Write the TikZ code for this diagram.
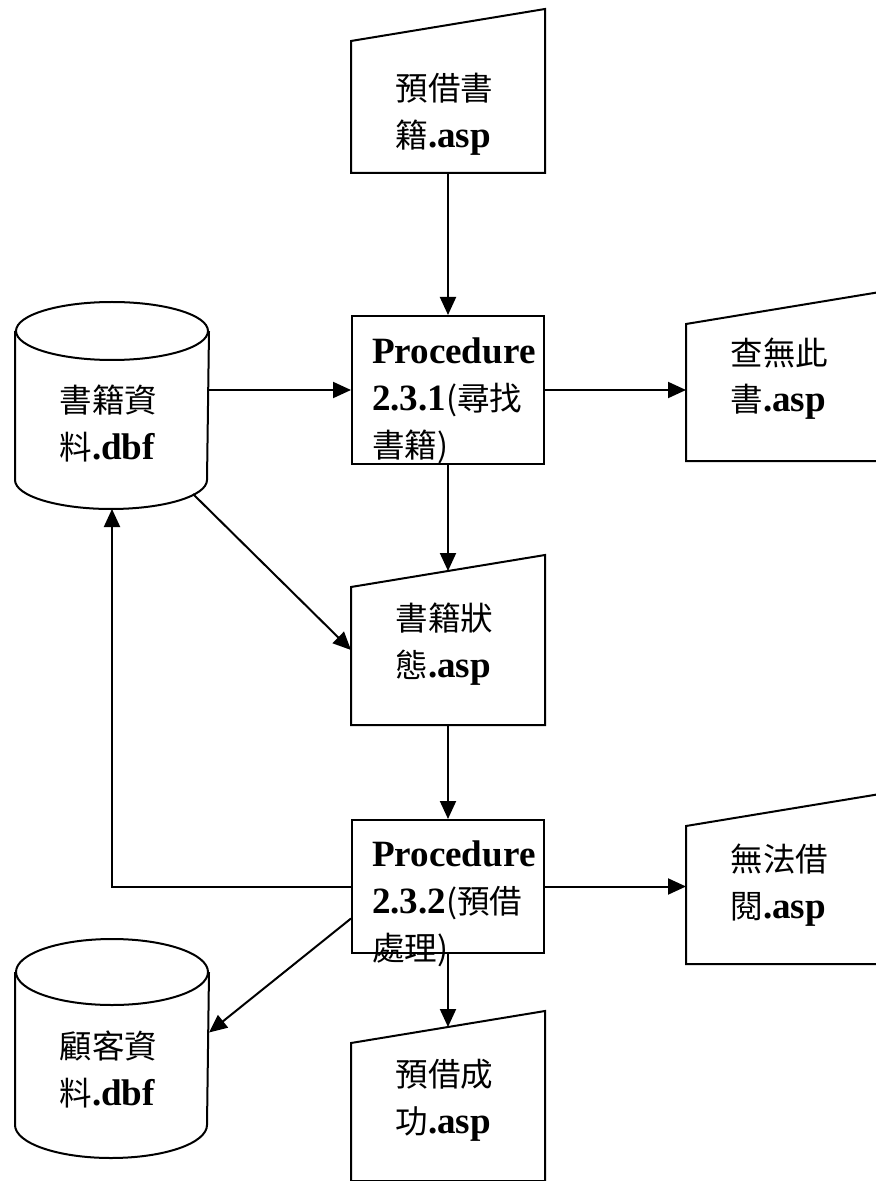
\documentclass[tikz,border=0pt]{standalone}
\usepackage{fontspec}
\setmainfont{Liberation Serif}[Scale=1.06]
\newfontfamily\cjk{Noto Sans CJK TC}[Scale=0.93]
\usetikzlibrary{arrows.meta}

% slanted top page
\newcommand\miobox[1]{\draw (#1.south west) -- ([yshift=-16pt]#1.north west) -- (#1.north east) -- (#1.south east) -- cycle;}
% data store, #2 = half height of the lid
\newcommand\dbcyl[2]{%
\draw ([yshift=-#2]#1.north) ellipse [x radius=48pt, y radius=#2];
\draw ([yshift=-#2]#1.north west) -- ([yshift=#2]#1.south west)
  arc [start angle=180, end angle=360, x radius=48pt, y radius=#2] -- ([yshift=-#2]#1.north east);}

\begin{document}
\begin{tikzpicture}[x=0.5pt, y=-0.5pt, line width=1pt,
  every node/.style={font=\fontsize{17.5}{23.5}\selectfont, inner sep=0pt},
  mio/.style={minimum width=96pt, text width=52.5pt, align=left, text height=37pt, text depth=47pt},
  proc/.style={draw, minimum width=96pt, inner xsep=10pt, text width=76pt, align=left},
  db/.style={minimum width=96pt, text width=52.5pt, align=left},
  arr/.style={-{Triangle[length=9pt,width=8pt]}}]

\useasboundingbox (0,0) rectangle (876,1181);
\clip (0,0) rectangle (876,1181);

\node[mio, text height=45.5pt, text depth=35.5pt] (rsv) at (448,91) {{\cjk 預借書}\\{\cjk 籍}\textbf{.asp}};
\node[proc, text height=24pt, text depth=50pt] (p231) at (448,390) {\mbox{\textbf{Procedure}}\\\textbf{2.3.1}{\cjk (尋找}\\{\cjk 書籍)}};
\node[db, text height=55pt, text depth=47.5pt] (bookdb) at (112,405.5) {{\cjk 書籍資}\\{\cjk 料}\textbf{.dbf}};
\node[mio, text height=36pt, text depth=47.5pt] (nobook) at (783,376.5) {{\cjk 查無此}\\{\cjk 書}\textbf{.asp}};
\node[mio] (status) at (448,640) {{\cjk 書籍狀}\\{\cjk 態}\textbf{.asp}};
\node[proc, text height=23pt, text depth=43.5pt] (p232) at (448,886.5) {\mbox{\textbf{Procedure}}\\\textbf{2.3.2}{\cjk (預借}\\{\cjk 處理)}};
\node[mio, text height=38pt, text depth=46pt] (noborrow) at (783,879) {{\cjk 無法借}\\{\cjk 閱}\textbf{.asp}};
\node[mio] (done) at (448,1096) {{\cjk 預借成}\\{\cjk 功}\textbf{.asp}};
\node[db, text height=59pt, text depth=49.5pt] (custdb) at (112,1048.5) {{\cjk 顧客資}\\{\cjk 料}\textbf{.dbf}};

\miobox{rsv}
\miobox{nobook}
\miobox{status}
\miobox{noborrow}
\miobox{done}
\dbcyl{bookdb}{14.5pt}
\dbcyl{custdb}{16.5pt}

% search
\draw[arr] (rsv.south) -- (p231.north);
\draw[arr] (bookdb.east |- p231.west) -- (p231.west);
\draw[arr] (p231.east) -- (nobook.west |- p231.east);
\draw[arr] (p231.south) -- ([yshift=-8pt]status.north);
\draw[arr] ([xshift=40.5pt,yshift=7.5pt]bookdb.south) -- ([yshift=-5pt]status.west);

% reserve
\draw[arr] (status.south) -- (p232.north);
\draw[arr] (p232.west) -| (bookdb.south);
\draw[arr] (p232.east) -- (noborrow.west |- p232.east);
\draw[arr] ([yshift=-16pt]p232.west) -- ([yshift=8pt]custdb.east);
\draw[arr] (p232.south) -- ([yshift=-8pt]done.north);

\end{tikzpicture}
\end{document}
